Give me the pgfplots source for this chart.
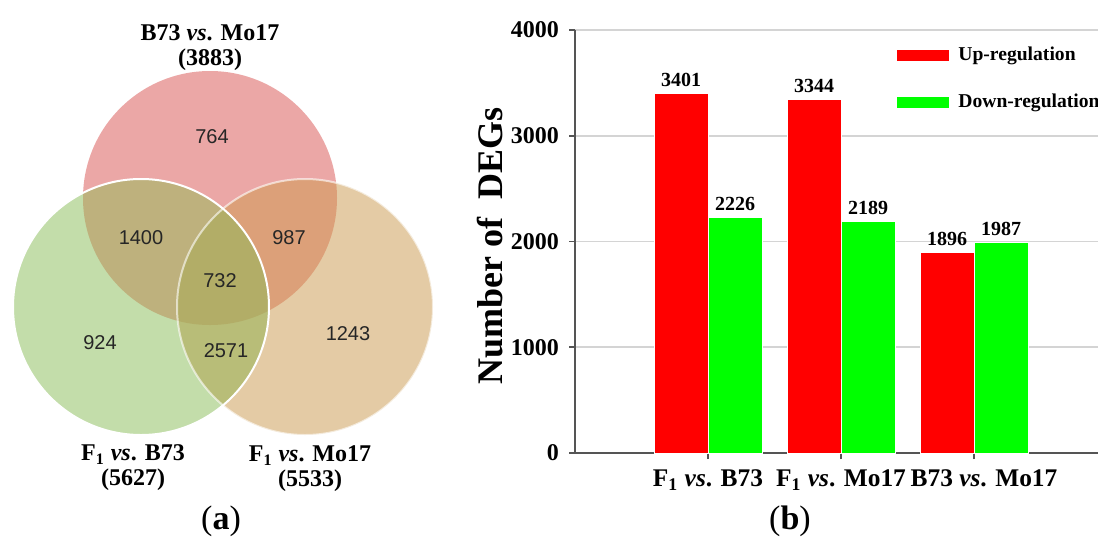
\documentclass[border=0pt]{standalone}
\usepackage{fontspec}
\setmainfont{Liberation Serif}
\newfontfamily\arial{Liberation Sans}
\usepackage{pgfplots}
\usepackage{pgfplotstable}
\pgfplotsset{compat=1.18}

\definecolor{cA}{HTML}{EBA7A6}
\definecolor{cB}{HTML}{C3DDAA}
\definecolor{cC}{HTML}{E4CBA5}
\definecolor{cAB}{HTML}{BEB17D}
\definecolor{cAC}{HTML}{DCA079}
\definecolor{cBC}{HTML}{B8BD78}
\definecolor{cABC}{HTML}{B2AD67}
\definecolor{axgray}{HTML}{555555}
\definecolor{gridgray}{HTML}{D4D4D4}

\pgfplotstableread{
x up down
1 3401 2226
2 3344 2189
3 1896 1987
}\degtable

\begin{document}
\begin{tikzpicture}
\path[use as bounding box] (0pt,0pt) rectangle (549pt,269pt);
\clip (0pt,0pt) rectangle (549pt,269pt);
% ---------------- (a) Venn diagram ----------------
\begin{axis}[at={(0pt,0pt)}, anchor=origin, scale only axis,
  width=549pt, height=269pt, xmin=0, xmax=1098, ymin=0, ymax=538,
  hide axis, clip=false]
  % circles: A = B73 vs Mo17 (top), B = F1 vs B73 (left), C = F1 vs Mo17 (right)
  \fill[cA] (axis cs:210,340) circle[radius=127];
  \fill[cB] (axis cs:141,231) circle[radius=128];
  \fill[cC] (axis cs:305,231) circle[radius=128];
  \begin{scope}
    \clip (axis cs:210,340) circle[radius=127];
    \fill[cAB] (axis cs:141,231) circle[radius=128];
  \end{scope}
  \begin{scope}
    \clip (axis cs:210,340) circle[radius=127];
    \fill[cAC] (axis cs:305,231) circle[radius=128];
  \end{scope}
  \begin{scope}
    \clip (axis cs:141,231) circle[radius=128];
    \fill[cBC] (axis cs:305,231) circle[radius=128];
  \end{scope}
  \begin{scope}
    \clip (axis cs:210,340) circle[radius=127];
    \clip (axis cs:141,231) circle[radius=128];
    \fill[cABC] (axis cs:305,231) circle[radius=128];
  \end{scope}
  \draw[white, line width=1pt, opacity=0.6] (axis cs:305,231) circle[radius=128];
  \draw[white, line width=1pt] (axis cs:141,231) circle[radius=128];
  % region counts
  \begin{scope}[every node/.style={font=\arial\fontsize{10}{10}\selectfont, text=black!85}]
    \node at (axis cs:212,401) {764};
    \node at (axis cs:141,300) {1400};
    \node at (axis cs:289,300) {987};
    \node at (axis cs:220,257) {732};
    \node at (axis cs:100,195) {924};
    \node at (axis cs:226,187) {2571};
    \node at (axis cs:348,204) {1243};
  \end{scope}
  % set titles
  \begin{scope}[every node/.style={font=\fontsize{12}{12.5}\selectfont\bfseries, align=center}]
    \node at (axis cs:210,490) {B73 \textit{vs}. Mo17\\(3883)};
    \node at (axis cs:133,70) {F\textsubscript{1} \textit{vs}. B73\\(5627)};
    \node at (axis cs:310,69) {F\textsubscript{1} \textit{vs}. Mo17\\(5533)};
  \end{scope}
  \node[font=\fontsize{17}{17}\selectfont] at (axis cs:221,17) {(\textbf{a})};
  \node[font=\fontsize{17}{17}\selectfont] at (axis cs:790,17) {(\textbf{b})};
\end{axis}
% ---------------- (b) bar chart ----------------
\begin{axis}[at={(287.5pt,42.5pt)}, anchor=origin, scale only axis,
  width=266pt, height=211.5pt,
  xmin=0, xmax=4, ymin=0, ymax=4000,
  ybar=0pt, bar width=27pt,
  axis x line=bottom, axis y line=left,
  axis line style={-, draw=axgray, line width=0.8pt},
  tick style={draw=axgray, line width=0.8pt},
  tick align=outside, major tick length=3pt,
  xtick={1,2,3},
  xticklabels={{F\textsubscript{1} \textit{vs}. B73},{F\textsubscript{1} \textit{vs}. Mo17},{\hspace*{10pt}B73 \textit{vs}. Mo17}},
  xticklabel style={font=\fontsize{12.7}{13}\selectfont\bfseries, yshift=-2pt},
  ytick={0,1000,2000,3000,4000},
  yticklabels={0,1000,2000,3000,4000},
  yticklabel style={font=\fontsize{12}{12}\selectfont\bfseries, xshift=-1.5pt},
  ymajorgrids, grid style={draw=gridgray, line width=0.8pt},
  ylabel={Number of\ \ DEGs},
  ylabel style={font=\fontsize{18}{18}\selectfont\bfseries, at={(axis description cs:-0.16,0.489)}, anchor=center},
  /pgf/number format/1000 sep={},
  /pgf/number format/assume math mode=true,
  nodes near coords,
  every node near coord/.append style={font=\fontsize{10}{10}\selectfont\bfseries, text=black},
  legend style={draw=none, fill=none, at={(axis description cs:0.594,0.979)}, anchor=north west,
    font=\fontsize{9.8}{12}\selectfont\bfseries, row sep=11pt},
  legend cell align=left,
  clip=false,
]
\addplot[fill=red, draw=white, line width=0.4pt,
  legend image code/.code={\fill[red, draw=none] (0pt,-2.75pt) rectangle (26pt,2.75pt);
    \path[draw=none, fill=none] (26pt,0pt) -- (28.5pt,0pt);}]
  table[x=x, y=up]{\degtable};
\addlegendentry{Up-regulation}
\addplot[fill=green, draw=white, line width=0.4pt,
  legend image code/.code={\fill[green, draw=none] (0pt,-2.75pt) rectangle (26pt,2.75pt);
    \path[draw=none, fill=none] (26pt,0pt) -- (28.5pt,0pt);}]
  table[x=x, y=down]{\degtable};
\addlegendentry{Down-regulation}
\end{axis}
\end{tikzpicture}
\end{document}
